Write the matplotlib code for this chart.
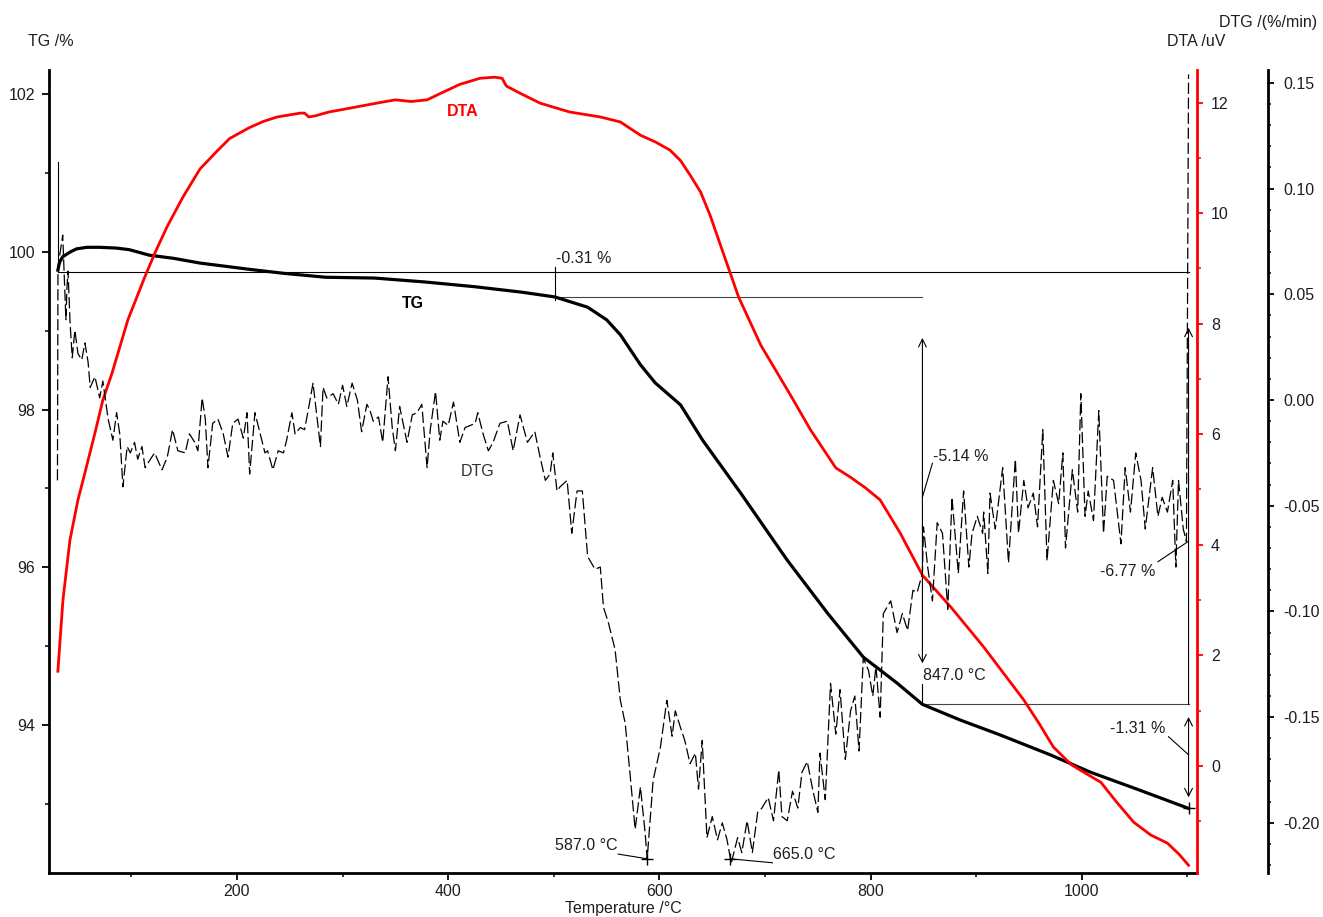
import matplotlib
matplotlib.use("Agg")
from matplotlib import pyplot as plt
from matplotlib.ticker import FormatStrFormatter

plt.rcParams['font.family'] = ['Liberation Sans', 'DejaVu Sans']
plt.rcParams['font.size'] = 11.5
plt.rcParams['axes.unicode_minus'] = False

# TG curve (%)
tg_temp = [30.4, 32, 35, 42, 48, 58, 70, 86, 98, 117, 140, 165, 212, 244, 284, 330,
           378, 425, 470, 501, 532, 550, 563, 582, 596, 620, 641, 677, 721, 759,
           793, 825, 849, 885, 923, 970, 1008, 1055, 1101]
tg_val = [99.77, 99.87, 99.94, 100.0, 100.04, 100.06, 100.06, 100.05, 100.03, 99.96,
          99.92, 99.86, 99.78, 99.73, 99.68, 99.67, 99.62, 99.56, 99.49, 99.43,
          99.30, 99.14, 98.95, 98.57, 98.34, 98.06, 97.61, 96.94, 96.09, 95.42,
          94.86, 94.53, 94.26, 94.06, 93.87, 93.62, 93.40, 93.17, 92.94]

# DTA curve (uV)
dta_temp = [30.4, 32.3, 35.2, 41.8, 49.4, 56, 65.5, 73, 81.6, 96.7, 112.8, 122.3,
            133.7, 148.8, 165, 181, 193, 212, 225, 238, 260, 264, 268, 274, 287, 307,
            335, 350, 365, 380, 392, 411, 430, 444, 451, 455, 468, 487, 515, 544,
            563, 582, 596, 610, 620, 629, 639, 648, 662, 675, 696, 724, 743, 767,
            781, 795, 809, 828, 849, 876, 907, 945, 960, 973, 990, 1003, 1018, 1033,
            1049, 1065, 1081, 1092, 1101]
dta_val = [1.71, 2.22, 3.0, 4.08, 4.81, 5.30, 6.02, 6.62, 7.10, 8.07, 8.85, 9.28,
           9.75, 10.29, 10.80, 11.12, 11.35, 11.55, 11.66, 11.74, 11.81, 11.81,
           11.74, 11.76, 11.83, 11.90, 12.00, 12.05, 12.02, 12.05, 12.16, 12.33,
           12.44, 12.46, 12.44, 12.30, 12.17, 11.99, 11.83, 11.74, 11.65, 11.41,
           11.29, 11.14, 10.95, 10.69, 10.38, 9.96, 9.19, 8.48, 7.61, 6.71, 6.08,
           5.39, 5.22, 5.03, 4.81, 4.21, 3.45, 2.87, 2.15, 1.19, 0.75, 0.34, 0.02,
           -0.13, -0.30, -0.66, -1.02, -1.25, -1.40, -1.60, -1.80]

# DTG curve (%/min)
dtg_temp = [30, 30.5, 35, 38, 39, 40, 42, 44, 46.5, 49.4, 53, 56, 59, 61, 65.5, 70,
            73, 78, 82.5, 86, 89, 92, 96, 99, 103, 106, 110, 113, 118, 122, 129,
            134, 139, 144, 151, 155, 160, 163, 167, 170, 172.5, 177, 182, 187,
            191.5, 196, 201, 206, 209.5, 212, 217, 222, 226.5, 229, 234, 239, 244,
            247, 252, 255, 260, 264, 267, 272, 276, 279, 281.5, 285, 291, 296, 300,
            304, 309, 314, 318, 323, 326, 329, 334, 338, 343, 347, 350, 354, 361,
            366, 370.5, 375, 380, 383, 388, 392, 395, 400, 405, 411, 416, 421,
            425.5, 428, 433, 438, 442.5, 449, 456, 461.5, 468, 475, 482, 487, 492,
            496.5, 499, 503, 506, 512.6, 517, 522, 527, 532, 539, 544, 547, 551.5,
            558, 563, 567.6, 572, 577, 582, 586.5, 588.4, 594, 601, 607, 612, 615,
            620, 624, 629, 634, 637, 640.5, 645, 650, 655, 659.5, 664, 668, 674,
            678, 683, 688, 693, 697, 703, 708, 713, 716, 721, 726, 731, 735, 740,
            745, 750, 752, 757, 762, 767, 771, 776, 781, 785, 789, 793, 798, 802,
            805, 809, 812, 819, 825, 830, 835, 840, 844, 849, 850, 854, 858.5, 863,
            868, 873, 877, 883, 888, 893, 896, 901, 906, 907, 911, 913, 918, 925,
            930.5, 937, 940, 945, 949, 954, 958, 963, 967, 973, 978, 982, 984.5,
            991, 996, 999, 1003, 1006, 1011, 1016, 1020.5, 1024, 1030, 1037, 1041,
            1046, 1051, 1056, 1060, 1067, 1072, 1076, 1081, 1086, 1089, 1091.5,
            1096, 1099, 1101]
dtg_val = [-0.038, 0.063, 0.078, 0.038, 0.053, 0.061, 0.036, 0.020, 0.033, 0.022,
           0.019, 0.027, 0.018, 0.006, 0.011, 0.001, 0.009, -0.009, -0.019, -0.006,
           -0.016, -0.041, -0.022, -0.025, -0.020, -0.028, -0.022, -0.032, -0.028,
           -0.025, -0.033, -0.027, -0.014, -0.024, -0.025, -0.016, -0.020, -0.024,
           0.001, -0.009, -0.032, -0.011, -0.009, -0.016, -0.027, -0.011, -0.009,
           -0.018, -0.006, -0.035, -0.006, -0.016, -0.025, -0.024, -0.033, -0.024,
           -0.025, -0.019, -0.006, -0.016, -0.013, -0.014, -0.006, 0.008, -0.009,
           -0.022, 0.006, 0.001, 0.003, -0.002, 0.007, -0.003, 0.008, 0.000,
           -0.015, -0.002, -0.005, -0.010, -0.008, -0.020, 0.011, -0.013, -0.024,
           -0.003, -0.020, -0.007, -0.006, -0.002, -0.032, -0.014, 0.004, -0.019,
           -0.010, -0.012, -0.001, -0.020, -0.013, -0.012, -0.011, -0.006, -0.016,
           -0.024, -0.020, -0.011, -0.010, -0.024, -0.007, -0.020, -0.015, -0.027,
           -0.038, -0.035, -0.025, -0.043, -0.041, -0.038, -0.063, -0.043, -0.043,
           -0.074, -0.080, -0.079, -0.098, -0.105, -0.118, -0.142, -0.153, -0.176,
           -0.203, -0.183, -0.205, -0.217, -0.180, -0.164, -0.142, -0.159, -0.147,
           -0.155, -0.161, -0.172, -0.167, -0.184, -0.161, -0.207, -0.197, -0.208,
           -0.200, -0.208, -0.219, -0.207, -0.214, -0.199, -0.214, -0.195, -0.193,
           -0.188, -0.199, -0.175, -0.197, -0.199, -0.185, -0.193, -0.176, -0.171,
           -0.184, -0.195, -0.167, -0.189, -0.134, -0.158, -0.137, -0.170, -0.147,
           -0.140, -0.166, -0.122, -0.128, -0.140, -0.126, -0.150, -0.101, -0.095,
           -0.110, -0.101, -0.109, -0.090, -0.091, -0.082, -0.060, -0.079, -0.095,
           -0.058, -0.063, -0.099, -0.046, -0.082, -0.043, -0.079, -0.063, -0.055,
           -0.063, -0.053, -0.082, -0.044, -0.061, -0.032, -0.077, -0.028, -0.063,
           -0.038, -0.051, -0.044, -0.060, -0.014, -0.076, -0.038, -0.049, -0.025,
           -0.070, -0.033, -0.053, 0.003, -0.055, -0.043, -0.057, -0.005, -0.063,
           -0.036, -0.038, -0.068, -0.032, -0.053, -0.025, -0.038, -0.061, -0.032,
           -0.055, -0.046, -0.053, -0.038, -0.079, -0.038, -0.061, -0.067, 0.154]

txt = '#1e1e1e'

fig = plt.figure(figsize=(13.23, 9.17), dpi=100)
ax = fig.add_axes([49/1323, 44/917, 1148/1323, 803/917])
ax2 = ax.twinx()
ax3 = ax.twinx()

ax.set_xlim(22, 1109)
ax.set_ylim(92.12, 102.31)
ax2.set_ylim(-1.94, 12.59)
ax3.set_ylim(-0.2237, 0.1561)

# spines
for s in ['top', 'right']:
    ax.spines[s].set_visible(False)
for s in ['left', 'bottom']:
    ax.spines[s].set_linewidth(2)
for a in [ax2, ax3]:
    for s in ['top', 'left', 'bottom']:
        a.spines[s].set_visible(False)
    a.spines['right'].set_linewidth(2)
ax2.spines['right'].set_color('red')
ax3.spines['right'].set_position(('axes', 1.0618))

# ticks
ax.set_xticks([200, 400, 600, 800, 1000])
ax.set_xticks([100, 300, 500, 700, 900, 1100], minor=True)
ax.set_yticks([94, 96, 98, 100, 102])
ax.set_yticks([93, 95, 97, 99, 101], minor=True)
ax.tick_params(which='major', length=5, width=1.3, labelcolor=txt, pad=5)
ax.tick_params(axis='x', which='major', pad=3)
ax.tick_params(which='minor', length=3, width=1.1)

ax2.set_yticks([0, 2, 4, 6, 8, 10, 12])
ax2.set_yticks([-1, 1, 3, 5, 7, 9, 11], minor=True)
ax2.tick_params(which='major', colors='red', labelcolor=txt, length=4, width=1.3, pad=6)
ax2.tick_params(which='minor', colors='red', length=3, width=1.1)

ax3.set_yticks([-0.20, -0.15, -0.10, -0.05, 0.00, 0.05, 0.10, 0.15])
ax3.set_yticks([i / 100 for i in range(-22, 16)], minor=True)
ax3.yaxis.set_major_formatter(FormatStrFormatter('%.2f'))
ax3.tick_params(which='major', length=4, width=1.3, labelcolor=txt, pad=7)
ax3.tick_params(which='minor', length=2.5, width=1.1)

# curves
ax.plot(tg_temp, tg_val, color='black', lw=2.3, zorder=3)
ax2.plot(dta_temp, dta_val, color='red', lw=2)
ax3.plot(dtg_temp, dtg_val, color='black', lw=0.9, dashes=(9, 3))

# step annotations
lk = dict(color='black', lw=0.8)
ax.plot([30.4, 1101], [99.75, 99.75], **lk)
ax.plot([30.4, 30.4], [99.75, 101.14], **lk)
ax.plot([501, 849], [99.43, 99.43], color='#444444', lw=0.8)
ax.plot([501, 501], [99.39, 99.81], **lk)
ax.text(502, 99.92, '-0.31 %', ha='left', va='center', color=txt)

arr = dict(lw=0.8, color='black', shrinkA=0, shrinkB=0, mutation_scale=14)
ax.annotate('', xy=(849, 98.91), xytext=(849, 94.78), arrowprops=dict(arrowstyle='<->', **arr))
ax.plot([849, 849], [94.26, 94.52], **lk)
ax.text(850, 94.63, '847.0 °C', ha='left', va='center', color=txt)
ax.plot([849, 858.5], [96.89, 97.32], **lk)
ax.text(859, 97.40, '-5.14 %', ha='left', va='center', color=txt)

ax.plot([849, 1101], [94.26, 94.26], color='#444444', lw=0.8)
ax.annotate('', xy=(1101, 99.04), xytext=(1101, 94.26), arrowprops=dict(arrowstyle='->', **arr))
ax.plot([1072, 1101], [96.07, 96.33], **lk)
ax.text(1017.6, 95.94, '-6.77 %', ha='left', va='center', color=txt)

ax.annotate('', xy=(1101, 93.08), xytext=(1101, 94.10), arrowprops=dict(arrowstyle='<->', **arr))
ax.plot([1082, 1101], [93.85, 93.62], **lk)
ax.text(1027, 93.96, '-1.31 %', ha='left', va='center', color=txt)
ax.plot([1101], [92.94], marker='+', ms=9, color='black', mew=1)

# peak markers
ax.plot([561, 588.4], [92.36, 92.30], **lk)
ax.plot([588.4], [92.30], marker='+', ms=9, color='black', mew=1)
ax.text(560, 92.47, '587.0 °C', ha='right', va='center', color=txt)
ax.plot([667, 707], [92.30, 92.25], **lk)
ax.plot([667], [92.30], marker='+', ms=9, color='black', mew=1)
ax.text(708, 92.36, '665.0 °C', ha='left', va='center', color=txt)

# curve labels
ax.text(367, 99.35, 'TG', ha='center', va='center', fontweight='bold', color='black')
ax.text(414, 101.78, 'DTA', ha='center', va='center', fontweight='bold', color='red')
ax.text(428, 97.22, 'DTG', ha='center', va='center', color='#333333')

# axis titles
fig.text(28/1323, 1 - 42/917, 'TG /%', ha='left', va='center', color=txt)
fig.text(1167/1323, 1 - 42/917, 'DTA /uV', ha='left', va='center', color=txt)
fig.text(1219/1323, 1 - 22/917, 'DTG /(%/min)', ha='left', va='center', color=txt)
fig.text(623/1323, 1 - 908/917, 'Temperature /°C', ha='center', va='center', color=txt)

fig.savefig('out.png', dpi=100)
